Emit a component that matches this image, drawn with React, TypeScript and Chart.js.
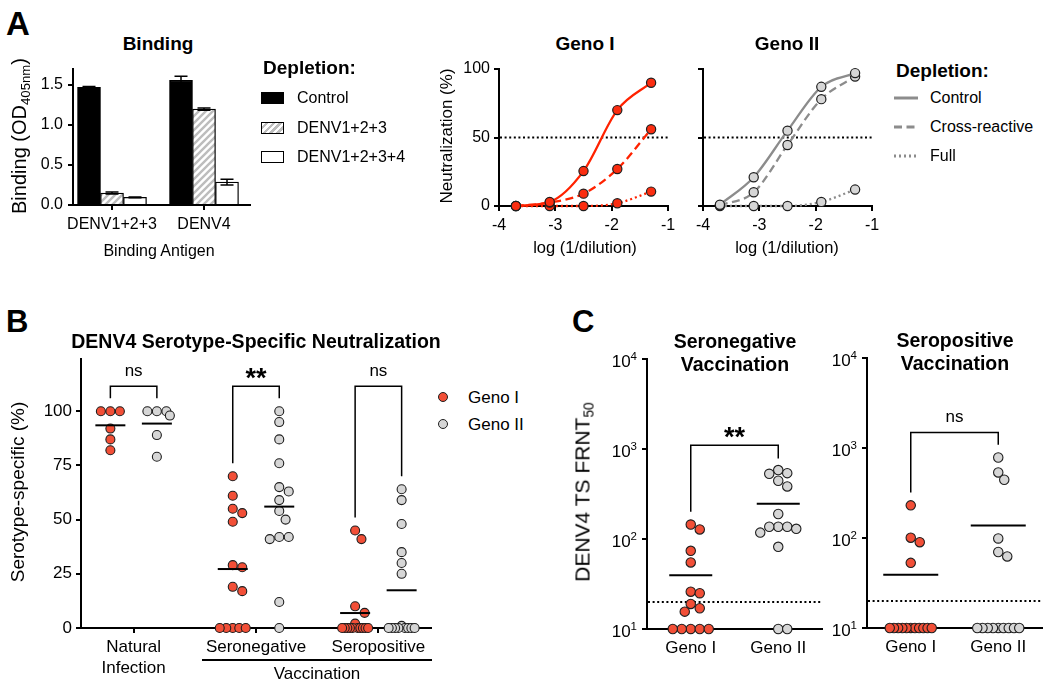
import React, { useEffect, useRef } from 'react';
import { Chart, registerables } from 'chart.js';
Chart.register(...registerables);

const FONT = "'Liberation Sans', Arial, Helvetica, sans-serif";
Chart.defaults.font.family = FONT;
Chart.defaults.color = '#000';

// ---------------- Panel A: binding ----------------
const BIND_ANTIGENS = ['DENV1+2+3', 'DENV4'];
const DEPLETIONS = ['Control', 'DENV1+2+3', 'DENV1+2+3+4'];
const BIND_CONTROL = [1.466, 1.555];
const BIND_CONTROL_ERR = [0.01, 0.05];
const BIND_D123 = [0.15, 1.195];
const BIND_D123_ERR = [0.012, 0.015];
const BIND_D1234 = [0.095, 0.285];
const BIND_D1234_ERR = [0.006, 0.035];
const BIND_Y_TICKS = [0, 0.5, 1.0, 1.5];

// ---------------- Panel A: neutralization curves ----------------
const NEUT_DEPLETIONS = ['Control', 'Cross-reactive', 'Full'];
const LOG_DIL = [-3.7, -3.1, -2.5, -1.9, -1.3];
const G1_CONTROL = [0, 3, 25.5, 70, 90];
const G1_CROSS = [0, 2.5, 9, 27, 56];
const G1_FULL = [0, 0, 0, 2, 10.5];
const G2_CONTROL = [1, 21, 55, 87, 97];
const G2_CROSS = [0.5, 10, 44.5, 78, 94.5];
const G2_FULL = [0, 0, 0, 3, 12];
const NEUT_X_TICKS = [-4, -3, -2, -1];
const NEUT_Y_TICKS = [0, 50, 100];
const NEUT_THRESHOLD = [50];

// ---------------- Panel B ----------------
const GENOS = ['Geno I', 'Geno II'];
const B_CATEGORIES: any[] = [['Natural', 'Infection'], 'Seronegative', 'Seropositive'];
const B_Y_TICKS = [0, 25, 50, 75, 100];
const B_NAT_G1 = [100, 100, 100, 92, 87, 82];
const B_NAT_G2 = [100, 100, 100, 98, 89, 79];
const B_SNEG_G1 = [70, 61, 55, 53, 49, 29, 28, 19, 17, 0, 0, 0, 0, 0];
const B_SNEG_G2 = [100, 95, 87, 76, 65, 63, 59, 54, 50, 42, 42, 41, 12, 0];
const B_SPOS_G1 = [45, 41, 10, 7, 2, 0, 0, 0, 0, 0, 0, 0, 0, 0, 0];
const B_SPOS_G2 = [64, 59, 48, 35, 30, 25, 1, 0, 0, 0, 0, 0, 0, 0, 0];
const B_MEAN_G1 = [93.5, 27.2, 6.9];
const B_MEAN_G2 = [94.3, 56, 17.4];
const B_SIG = ['ns', '**', 'ns'];
const B_BRACKET_TOP = [111.5, 111.5, 111.5];
const B_BRACKET_LEFT_END = [106, 76, 51];
const B_BRACKET_RIGHT_END = [106, 106, 70];

// ---------------- Panel C ----------------
const C_Y_TICKS = [10, 100, 1000, 10000];
const C_LOD = [20];
const C_SNEG_G1 = [145, 128, 74, 55, 26, 25, 19, 17, 15.6, 10, 10, 10, 10, 10];
const C_SNEG_G2 = [585, 541, 532, 445, 385, 190, 137, 137, 137, 130, 118, 82, 10, 10];
const C_SPOS_G1 = [231, 101, 90, 53, 10, 10, 10, 10, 10, 10, 10, 10, 10, 10, 10];
const C_SPOS_G2 = [787, 537, 445, 99, 70, 62.5, 10, 10, 10, 10, 10, 10, 10, 10, 10];
const C_SNEG_MEAN = [39.5, 247];
const C_SPOS_MEAN = [39, 138];
const C_SNEG_SIG = '**';
const C_SPOS_SIG = 'ns';
const C_SNEG_BRACKET = [1107, 201, 787]; // top, left end, right end
const C_SPOS_BRACKET = [1493, 321, 1089];

// ---------------- styling ----------------
const RED_LINE = '#ff2200';
const RED_PT = '#fb2d10';
const RED_DOT = '#f24f37';
const GRAY_LINE = '#8c8c8c';
const GRAY_DOT = '#d6d6d6';
const EDGE = '#1e1e1e';

const PAD = 14, YW = 55, XH = 70;
type Area = { l: number; t: number; r: number; b: number };

function rectFor(a: Area) {
  const left = a.l - YW - PAD;
  const top = a.t - PAD;
  return { left, top, width: a.r + PAD - left, height: a.b + XH + PAD - top };
}

function axisCommon(size: number, padding: number, lineHeight = 1.2) {
  return {
    offset: false,
    grid: { drawOnChartArea: false, drawTicks: true, tickLength: 5, color: '#000', lineWidth: 2, offset: false },
    border: { display: true, color: '#000', width: 2 },
    ticks: { color: '#000', font: { size, family: FONT, lineHeight }, padding, maxRotation: 0, minRotation: 0, autoSkip: false },
  };
}

function axis(kind: 'x' | 'y', type: string, min: number, max: number, tickVals: number[], label: (v: number, i: number) => any, size: number, padding: number, lh = 1.2) {
  const c: any = axisCommon(size, padding, lh);
  return {
    type, min, max, ...c,
    ticks: { ...c.ticks, callback: (v: number, i: number) => label(v, i) },
    afterBuildTicks: (s: any) => { s.ticks = tickVals.map((v) => ({ value: v })); },
    afterFit: (s: any) => { if (kind === 'y') s.width = YW; else s.height = XH; },
  };
}

function applySwarm(chart: any, d: number, limit: number) {
  chart.data.datasets.forEach((ds: any, i: number) => {
    if (!ds.swarm) return;
    const meta = chart.getDatasetMeta(i);
    const groups = new Map<number, any[]>();
    meta.data.forEach((el: any) => {
      const k = Math.round(el.x);
      if (!groups.has(k)) groups.set(k, []);
      groups.get(k)!.push(el);
    });
    groups.forEach((els) => {
      const cx = els[0].x;
      const placed: any[] = [];
      const step = d / 3;
      for (const el of els) {
        let off = 0;
        for (let k = 0; k < 400; k++) {
          const cand = k === 0 ? 0 : (k % 2 ? 1 : -1) * Math.ceil(k / 2) * step;
          if (placed.every((p) => (p.off - cand) ** 2 + (p.y - el.y) ** 2 >= d * d - 0.01)) { off = cand; break; }
        }
        placed.push({ el, off, y: el.y });
      }
      for (const p of placed) {
        const row = placed.filter((q) => Math.abs(q.y - p.y) < 3);
        const m = Math.max(...row.map((q) => Math.abs(q.off)));
        p.s = m > limit ? limit / m : 1;
      }
      for (const p of placed) p.el.x = cx + p.off * p.s;
    });
  });
}

function extras(cfg: any) {
  return {
    id: 'extras',
    afterDatasetsUpdate(chart: any) {
      if (cfg.swarm) applySwarm(chart, cfg.swarm.d, cfg.swarm.limit);
    },
    beforeDatasetsDraw(chart: any) {
      const { ctx, chartArea: ca, scales } = chart;
      (cfg.hlines || []).forEach((v: number) => {
        const y = scales.y.getPixelForValue(v);
        ctx.save();
        ctx.strokeStyle = '#000';
        ctx.lineWidth = 2;
        ctx.setLineDash([2, 2.6]);
        ctx.beginPath();
        ctx.moveTo(ca.left + 1, y);
        ctx.lineTo(ca.right, y);
        ctx.stroke();
        ctx.restore();
      });
    },
    afterDatasetsDraw(chart: any) {
      const { ctx, chartArea: ca, scales } = chart;
      ctx.save();
      // error bars
      chart.data.datasets.forEach((ds: any, i: number) => {
        if (!ds.errors) return;
        const meta = chart.getDatasetMeta(i);
        meta.data.forEach((el: any, j: number) => {
          const v = ds.data[j].y;
          const e = ds.errors[j];
          const y1 = scales.y.getPixelForValue(v + e);
          const y2 = scales.y.getPixelForValue(v - e);
          ctx.strokeStyle = '#000';
          ctx.lineWidth = 1.5;
          ctx.beginPath();
          ctx.moveTo(el.x, y1); ctx.lineTo(el.x, y2);
          ctx.moveTo(el.x - 6.5, y1); ctx.lineTo(el.x + 6.5, y1);
          ctx.moveTo(el.x - 6.5, y2); ctx.lineTo(el.x + 6.5, y2);
          ctx.stroke();
        });
      });
      // mean lines
      (cfg.means || []).forEach((m: any) => {
        const x = scales.x.getPixelForValue(m.x);
        const y = scales.y.getPixelForValue(m.y);
        ctx.strokeStyle = '#000';
        ctx.lineWidth = 2;
        ctx.beginPath();
        ctx.moveTo(x - m.w / 2, y); ctx.lineTo(x + m.w / 2, y);
        ctx.stroke();
      });
      // brackets
      (cfg.brackets || []).forEach((b: any) => {
        const x1 = scales.x.getPixelForValue(b.x1);
        const x2 = scales.x.getPixelForValue(b.x2);
        const yt = scales.y.getPixelForValue(b.top);
        const ya = scales.y.getPixelForValue(b.y1);
        const yb = scales.y.getPixelForValue(b.y2);
        ctx.strokeStyle = '#000';
        ctx.lineWidth = 1.5;
        ctx.beginPath();
        ctx.moveTo(x1, ya); ctx.lineTo(x1, yt); ctx.lineTo(x2, yt); ctx.lineTo(x2, yb);
        ctx.stroke();
        ctx.fillStyle = '#000';
        ctx.textAlign = 'center';
        ctx.textBaseline = 'alphabetic';
        const cy = yt - 14.5;
        if (b.text === '**') {
          ctx.font = `bold 27px ${FONT}`;
          ctx.fillText(b.text, (x1 + x2) / 2, cy + 0.58 * 27);
        } else {
          ctx.font = `17px ${FONT}`;
          ctx.fillText(b.text, (x1 + x2) / 2, cy + 0.26 * 17);
        }
      });
      // log tick labels with superscripts
      if (cfg.logTicks) {
        cfg.logTicks.forEach((v: number) => {
          const y = scales.y.getPixelForValue(v);
          const xr = ca.left - 10;
          const exp = String(Math.round(Math.log10(v)));
          ctx.fillStyle = '#000';
          ctx.textAlign = 'right';
          ctx.textBaseline = 'alphabetic';
          ctx.font = `11.5px ${FONT}`;
          const ew = ctx.measureText(exp).width;
          ctx.fillText(exp, xr, y + 1);
          ctx.font = `17px ${FONT}`;
          ctx.fillText('10', xr - ew, y + 8);
        });
      }
      ctx.restore();
    },
  };
}

function hatch() {
  const s = 7;
  const c = document.createElement('canvas');
  c.width = s; c.height = s;
  const g = c.getContext('2d')!;
  g.fillStyle = '#fff';
  g.fillRect(0, 0, s, s);
  g.strokeStyle = '#bdbdbd';
  g.lineWidth = 2.4;
  g.beginPath();
  g.moveTo(0, s); g.lineTo(s, 0);
  g.moveTo(-s / 2, s / 2); g.lineTo(s / 2, -s / 2);
  g.moveTo(s / 2, s * 1.5); g.lineTo(s * 1.5, s / 2);
  g.stroke();
  return g.createPattern(c, 'repeat');
}

const baseOptions = {
  responsive: false,
  animation: false,
  devicePixelRatio: 1,
  layout: { padding: PAD },
  plugins: { legend: { display: false }, tooltip: { enabled: false } },
};

// ---------------- chart areas ----------------
const AREA_BIND: Area = { l: 73, t: 68, r: 250, b: 205 };
const AREA_G1: Area = { l: 499, t: 69, r: 668, b: 206 };
const AREA_G2: Area = { l: 703, t: 69, r: 872, b: 206 };
const AREA_B: Area = { l: 81, t: 359, r: 431, b: 628 };
const AREA_C1: Area = { l: 647, t: 359, r: 822, b: 629 };
const AREA_C2: Area = { l: 867, t: 358, r: 1042, b: 628 };

function bindConfig() {
  const fills = ['#000', hatch(), '#fff'];
  const vals = [BIND_CONTROL, BIND_D123, BIND_D1234];
  const errs = [BIND_CONTROL_ERR, BIND_D123_ERR, BIND_D1234_ERR];
  return {
    type: 'bar',
    data: {
      datasets: vals.map((v, k) => ({
        label: DEPLETIONS[k],
        data: v.map((y, i) => ({ x: i, y })),
        errors: errs[k],
        backgroundColor: fills[k],
        borderColor: '#000',
        borderWidth: 1.3,
        barThickness: 23,
      })),
    },
    options: {
      ...baseOptions,
      scales: {
        x: axis('x', 'linear', -0.424, 1.5, [0, 1], (v, i) => BIND_ANTIGENS[i], 16, 5),
        y: axis('y', 'linear', 0, 1.7, BIND_Y_TICKS, (v) => v.toFixed(1), 16, 5),
      },
    },
    plugins: [extras({})],
  };
}

function neutConfig(series: number[][], line: string, fill: string, yLabels: boolean) {
  const dashes = [[], [8, 4.5], [2, 3]];
  return {
    type: 'line',
    data: {
      datasets: series.map((s, k) => ({
        label: NEUT_DEPLETIONS[k],
        data: LOG_DIL.map((x, i) => ({ x, y: s[i] })),
        borderColor: line,
        borderWidth: 2.3,
        borderDash: dashes[k],
        cubicInterpolationMode: 'monotone',
        pointRadius: 4.6,
        pointBackgroundColor: fill,
        pointBorderColor: EDGE,
        pointBorderWidth: 1.2,
        clip: false,
        fill: false,
      })),
    },
    options: {
      ...baseOptions,
      scales: {
        x: axis('x', 'linear', -4, -1, NEUT_X_TICKS, (v) => String(v), 16, 5),
        y: axis('y', 'linear', 0, 100, NEUT_Y_TICKS, (v) => (yLabels ? String(v) : ''), 16, 4),
      },
    },
    plugins: [extras({ hlines: NEUT_THRESHOLD })],
  };
}

const B_OFF = 0.19;
function bConfig() {
  const g1 = [B_NAT_G1, B_SNEG_G1, B_SPOS_G1];
  const g2 = [B_NAT_G2, B_SNEG_G2, B_SPOS_G2];
  const mk = (groups: number[][], off: number, color: string, label: string) => ({
    label,
    data: groups.flatMap((g, c) => g.map((y) => ({ x: c + off, y }))),
    swarm: true,
    showLine: false,
    pointRadius: 4.5,
    pointBackgroundColor: color,
    pointBorderColor: EDGE,
    pointBorderWidth: 1.1,
    clip: false,
  });
  return {
    type: 'scatter',
    data: { datasets: [mk(g1, -B_OFF, RED_DOT, GENOS[0]), mk(g2, B_OFF, GRAY_DOT, GENOS[1])] },
    options: {
      ...baseOptions,
      scales: {
        x: axis('x', 'linear', -0.43, 2.43, [0, 1, 2], (v, i) => B_CATEGORIES[i], 17, 4, 1.24),
        y: axis('y', 'linear', 0, 124, B_Y_TICKS, (v) => String(v), 17, 4),
      },
    },
    plugins: [extras({
      swarm: { d: 9.5, limit: 13 },
      means: [
        ...B_MEAN_G1.map((m, i) => ({ x: i - B_OFF, y: m, w: 30 })),
        ...B_MEAN_G2.map((m, i) => ({ x: i + B_OFF, y: m, w: 30 })),
      ],
      brackets: B_SIG.map((t, i) => ({ x1: i - B_OFF, x2: i + B_OFF, top: B_BRACKET_TOP[i], y1: B_BRACKET_LEFT_END[i], y2: B_BRACKET_RIGHT_END[i], text: t })),
    })],
  };
}

function cConfig(g1: number[], g2: number[], means: number[], br: number[], sig: string, meanW: number) {
  const mk = (vals: number[], x: number, color: string, label: string) => ({
    label,
    data: vals.map((y) => ({ x, y })),
    swarm: true,
    showLine: false,
    pointRadius: 4.7,
    pointBackgroundColor: color,
    pointBorderColor: EDGE,
    pointBorderWidth: 1.1,
    clip: false,
  });
  return {
    type: 'scatter',
    data: { datasets: [mk(g1, 0, RED_DOT, GENOS[0]), mk(g2, 1, GRAY_DOT, GENOS[1])] },
    options: {
      ...baseOptions,
      scales: {
        x: axis('x', 'linear', -0.5, 1.5, [0, 1], (v, i) => GENOS[i], 17, 4),
        y: axis('y', 'logarithmic', 10, 10000, C_Y_TICKS, () => '', 17, 4),
      },
    },
    plugins: [extras({
      swarm: { d: 9, limit: 21 },
      hlines: C_LOD,
      means: means.map((m, i) => ({ x: i, y: m, w: meanW })),
      brackets: [{ x1: 0, x2: 1, top: br[0], y1: br[1], y2: br[2], text: sig }],
      logTicks: C_Y_TICKS,
    })],
  };
}

function ChartBox({ area, make }: { area: Area; make: () => any }) {
  const ref = useRef<HTMLCanvasElement>(null);
  const r = rectFor(area);
  useEffect(() => {
    const ch = new Chart(ref.current as HTMLCanvasElement, make());
    return () => ch.destroy();
  }, []);
  return (
    <canvas
      ref={ref}
      width={r.width}
      height={r.height}
      style={{ position: 'absolute', left: r.left, top: r.top, width: r.width, height: r.height }}
    />
  );
}

function Txt({ x, y, size = 16, bold = false, align = 'center', rot = 0, children }: any) {
  const tx = align === 'center' ? '-50%' : align === 'left' ? '0%' : '-100%';
  return (
    <div
      style={{
        position: 'absolute', left: x, top: y, fontSize: size, fontWeight: bold ? 700 : 400,
        lineHeight: 1, whiteSpace: 'nowrap',
        transform: `translate(${tx}, -50%)${rot ? ` rotate(${rot}deg)` : ''}`,
      }}
    >
      {children}
    </div>
  );
}

const SUB = { fontSize: '0.66em', position: 'relative' as const, top: '0.32em' };

export default function App() {
  const swatches = [
    { background: '#000' },
    { background: 'repeating-linear-gradient(135deg, #fff 0px, #fff 2.2px, #bdbdbd 2.2px, #bdbdbd 4.9px)' },
    { background: '#fff' },
  ];
  const dashes = ['', '8 4.5', '2 3'];
  return (
    <div style={{ position: 'absolute', left: 0, top: 0, width: 1050, height: 686, background: '#fff', fontFamily: FONT, color: '#000', overflow: 'hidden' }}>
      <ChartBox area={AREA_BIND} make={bindConfig} />
      <ChartBox area={AREA_G1} make={() => neutConfig([G1_CONTROL, G1_CROSS, G1_FULL], RED_LINE, RED_PT, true)} />
      <ChartBox area={AREA_G2} make={() => neutConfig([G2_CONTROL, G2_CROSS, G2_FULL], GRAY_LINE, GRAY_DOT, false)} />
      <ChartBox area={AREA_B} make={bConfig} />
      <ChartBox area={AREA_C1} make={() => cConfig(C_SNEG_G1, C_SNEG_G2, C_SNEG_MEAN, C_SNEG_BRACKET, C_SNEG_SIG, 43)} />
      <ChartBox area={AREA_C2} make={() => cConfig(C_SPOS_G1, C_SPOS_G2, C_SPOS_MEAN, C_SPOS_BRACKET, C_SPOS_SIG, 55)} />

      {/* panel letters */}
      <Txt x={6} y={23} size={33} bold align="left">A</Txt>
      <Txt x={6} y={321} size={31} bold align="left">B</Txt>
      <Txt x={572} y={321} size={31} bold align="left">C</Txt>

      {/* Panel A binding */}
      <Txt x={158} y={43} size={19} bold>Binding</Txt>
      <Txt x={19} y={136} size={20} rot={-90}>Binding (OD<span style={SUB}>405nm</span>)</Txt>
      <Txt x={159} y={251} size={16}>Binding Antigen</Txt>
      <Txt x={263} y={67} size={19} bold align="left">Depletion:</Txt>
      {DEPLETIONS.map((d, i) => (
        <React.Fragment key={d}>
          <div style={{ position: 'absolute', left: 261, top: [98, 128, 157][i] - 6, width: 21, height: 10, border: '1.3px solid #000', ...swatches[i] }} />
          <Txt x={297} y={[98, 128, 157][i]} size={16} align="left">{d}</Txt>
        </React.Fragment>
      ))}

      {/* Panel A neutralization */}
      <Txt x={585} y={43} size={19} bold>{GENOS[0]}</Txt>
      <Txt x={787} y={43} size={19} bold>{GENOS[1]}</Txt>
      <Txt x={446} y={136} size={17} rot={-90}>Neutralization (%)</Txt>
      <Txt x={585} y={247} size={16.5}>log (1/dilution)</Txt>
      <Txt x={787} y={247} size={16.5}>log (1/dilution)</Txt>
      <Txt x={896} y={70} size={19} bold align="left">Depletion:</Txt>
      {NEUT_DEPLETIONS.map((d, i) => (
        <React.Fragment key={d}>
          <svg style={{ position: 'absolute', left: 893, top: [98, 127, 156][i] - 3 }} width={26} height={6}>
            <line x1={1} y1={3} x2={25} y2={3} stroke={GRAY_LINE} strokeWidth={3} strokeDasharray={dashes[i] || undefined} />
          </svg>
          <Txt x={930} y={[98, 127, 156][i]} size={16} align="left">{d}</Txt>
        </React.Fragment>
      ))}

      {/* Panel B */}
      <Txt x={256} y={342} size={19.5} bold>DENV4 Serotype-Specific Neutralization</Txt>
      <Txt x={17} y={492} size={19} rot={-90}>Serotype-specific (%)</Txt>
      <div style={{ position: 'absolute', left: 202, top: 659, width: 230, height: 1.5, background: '#000' }} />
      <Txt x={317} y={673} size={17}>Vaccination</Txt>
      {GENOS.map((g, i) => (
        <React.Fragment key={g}>
          <div style={{ position: 'absolute', left: 443 - 5, top: [397, 424][i] - 5, width: 8, height: 8, borderRadius: '50%', border: `1.1px solid ${EDGE}`, background: i === 0 ? RED_DOT : GRAY_DOT }} />
          <Txt x={468} y={[397, 424][i]} size={17} align="left">{g}</Txt>
        </React.Fragment>
      ))}

      {/* Panel C */}
      <Txt x={735} y={342} size={19.5} bold>Seronegative</Txt>
      <Txt x={735} y={365} size={19.5} bold>Vaccination</Txt>
      <Txt x={955} y={341} size={19.5} bold>Seropositive</Txt>
      <Txt x={955} y={364} size={19.5} bold>Vaccination</Txt>
      <Txt x={582} y={492} size={21} rot={-90}>DENV4 TS FRNT<span style={SUB}>50</span></Txt>
    </div>
  );
}
